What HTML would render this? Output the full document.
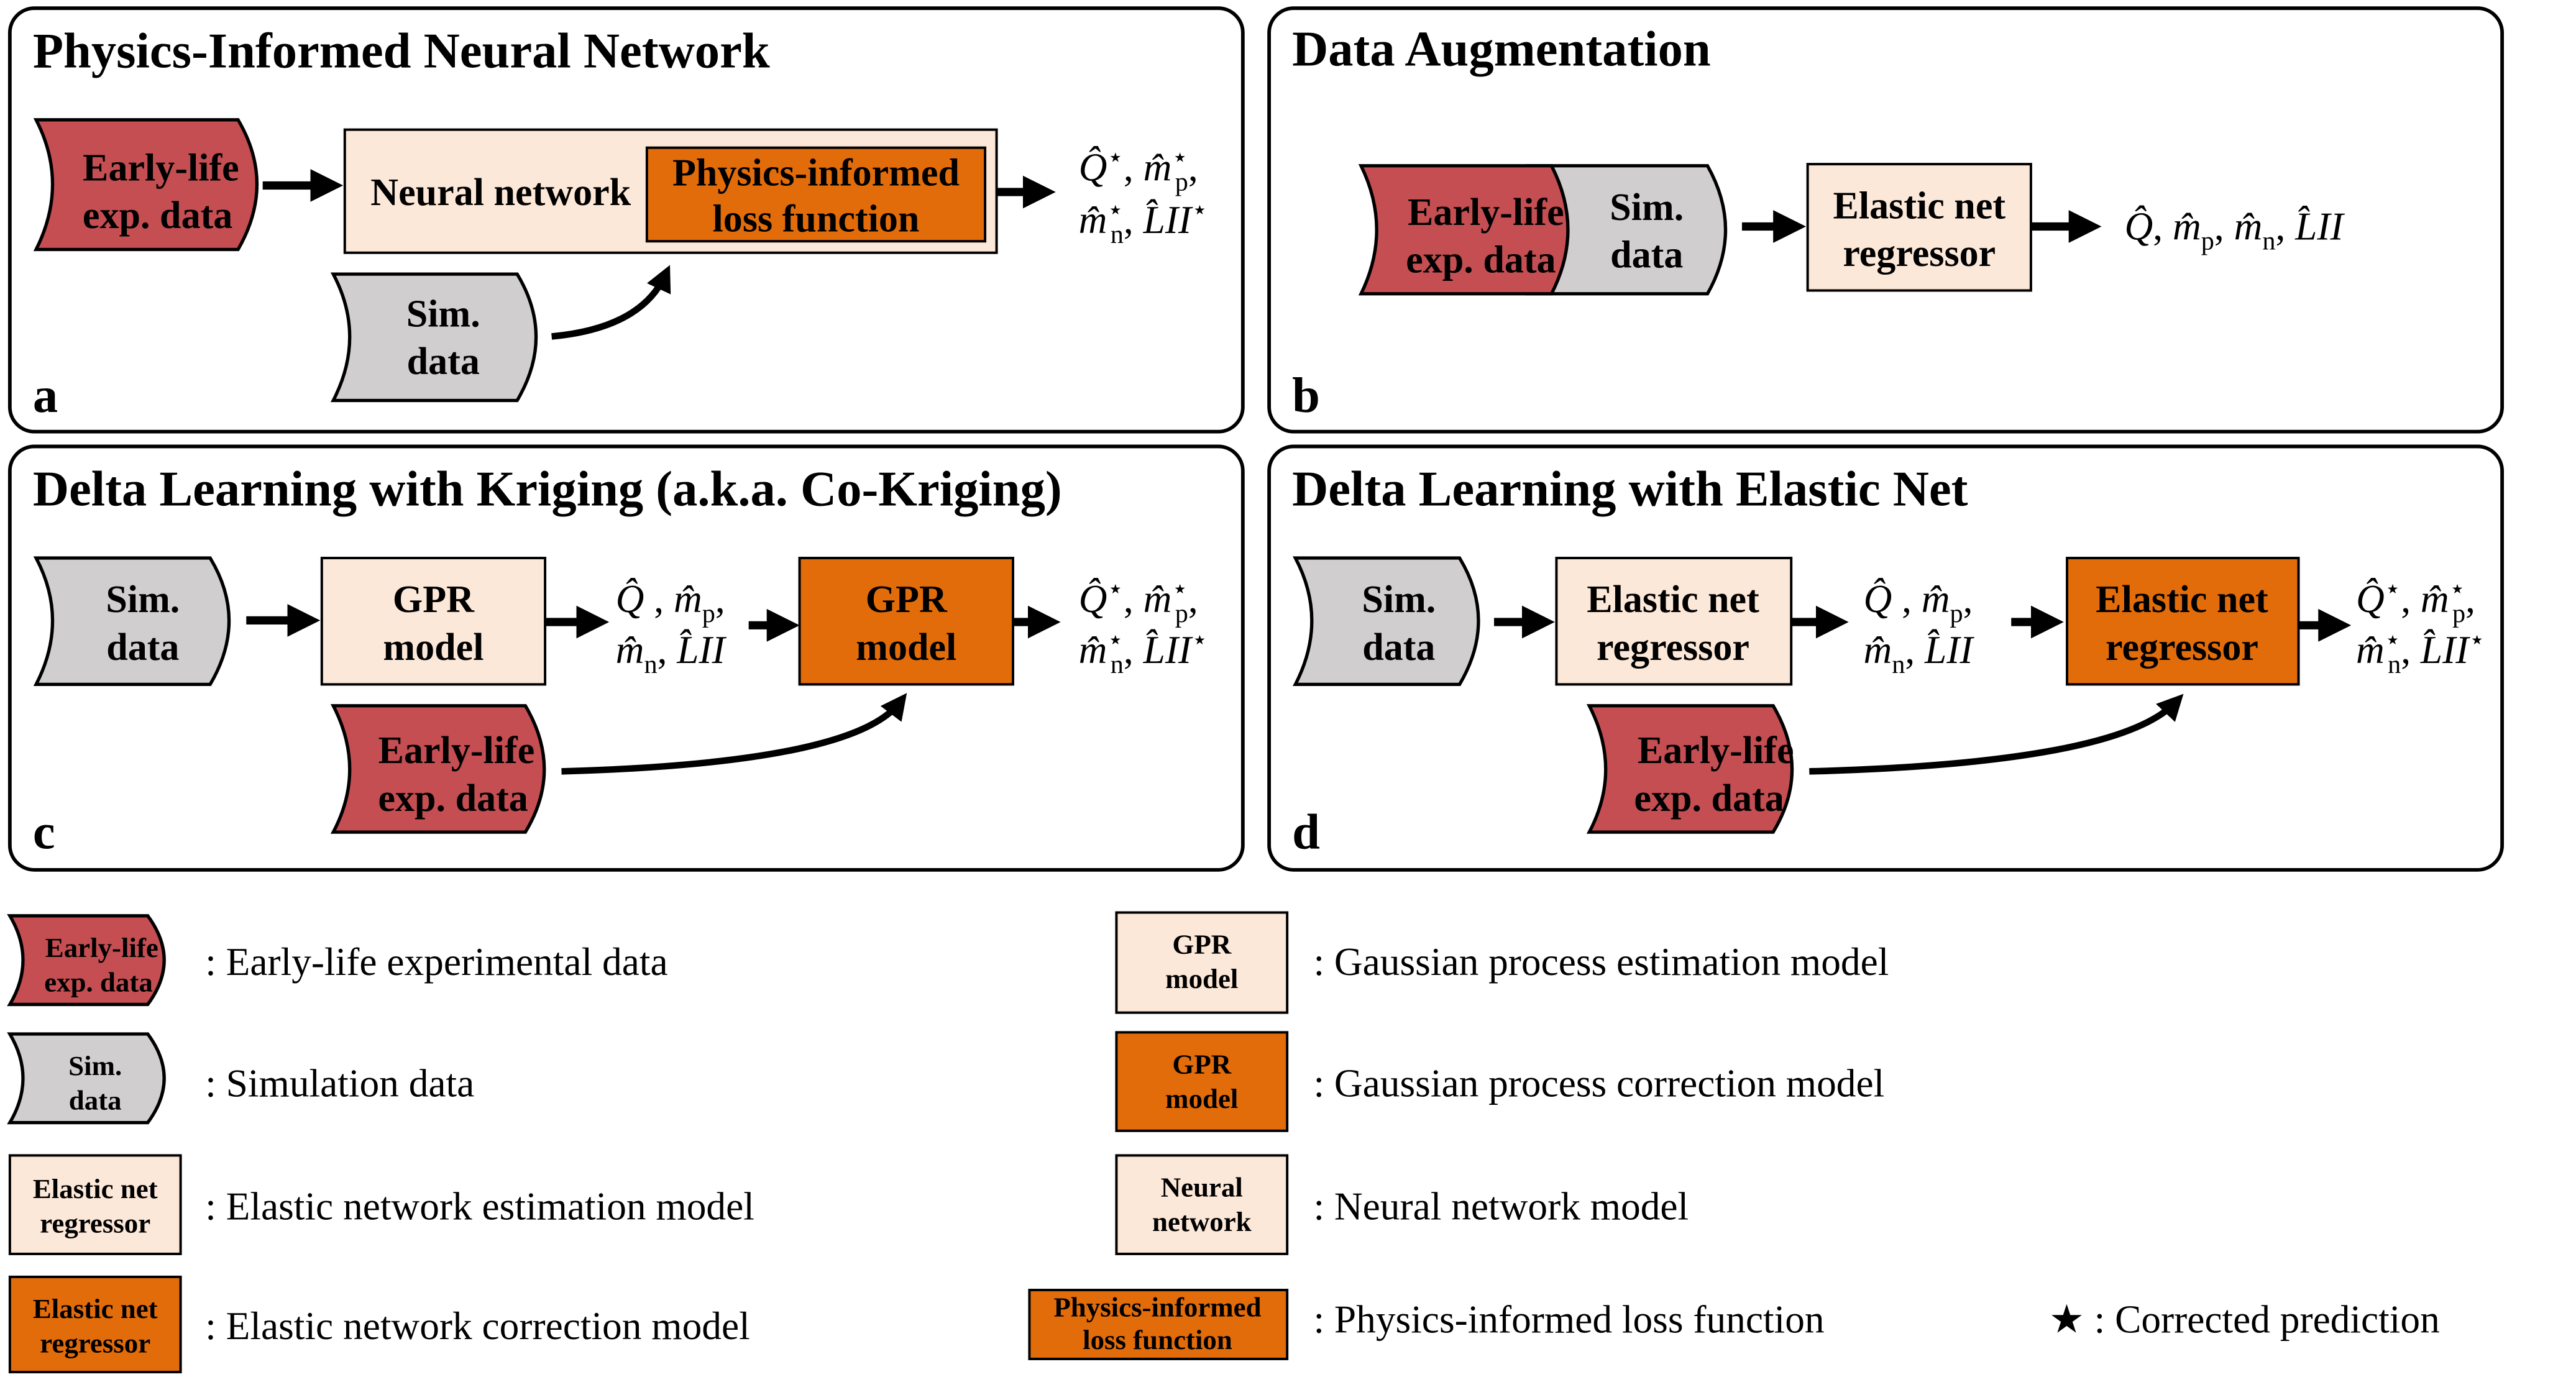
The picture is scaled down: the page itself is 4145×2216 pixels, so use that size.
<!DOCTYPE html>
<html><head><meta charset="utf-8"><style>
html,body{margin:0;padding:0;background:#fff}
svg{display:block}
text{font-family:"Liberation Serif",serif}
.t{font-weight:bold;font-size:30.5px}
.b{font-weight:bold;font-size:23.5px;text-anchor:middle}
.s{font-weight:bold;font-size:17px;text-anchor:middle}
.l{font-size:24px}
.m{font-size:24px;font-style:italic}
.sub{font-size:16px;font-style:normal}
</style></head><body>
<svg width="4145" height="2216" viewBox="0 0 1569 839" preserveAspectRatio="none" xmlns="http://www.w3.org/2000/svg">
<defs>
<marker id="ah" markerWidth="4" markerHeight="4" refX="2.2" refY="2" orient="auto" markerUnits="strokeWidth">
<path d="M0,0 L4,2 L0,4 Z" fill="#000"/></marker>
</defs>
<g fill="none" stroke="#000" stroke-width="2.2">
<rect x="6" y="5" width="751" height="258" rx="15"/>
<rect x="773" y="5" width="751" height="258" rx="15"/>
<rect x="6" y="272" width="751" height="258" rx="15"/>
<rect x="773" y="272" width="751" height="258" rx="15"/>
</g>
<text class="t" x="20" y="41">Physics-Informed Neural Network</text>
<text class="t" x="787" y="40">Data Augmentation</text>
<text class="t" x="20" y="308">Delta Learning with Kriging (a.k.a. Co-Kriging)</text>
<text class="t" x="787" y="308">Delta Learning with Elastic Net</text>
<text class="t" x="20" y="251">a</text>
<text class="t" x="787" y="251">b</text>
<text class="t" x="20" y="517">c</text>
<text class="t" x="787" y="517">d</text>

<!-- Panel a -->
<path d="M22,73 L145,73 Q168,112 145,152 L22,152 Q42,112 22,73 Z" fill="#c44e52" stroke="#000" stroke-width="2"/>
<text class="b" x="98" y="110">Early-life</text><text class="b" x="96" y="139">exp. data</text>
<line x1="160" y1="113" x2="200" y2="113" stroke="#000" stroke-width="5" marker-end="url(#ah)"/>
<rect x="210" y="79" width="397" height="75" fill="#fce8d8" stroke="#000" stroke-width="1.5"/>
<rect x="394" y="90" width="206" height="57" fill="#e36c0a" stroke="#000" stroke-width="1.5"/>
<text class="b" x="305" y="125">Neural network</text>
<text class="b" x="497" y="113">Physics-informed</text><text class="b" x="497" y="141">loss function</text>
<line x1="607" y1="117" x2="634" y2="117" stroke="#000" stroke-width="5" marker-end="url(#ah)"/>
<text class="m" x="657" y="110">Q̂<tspan class="sub" dy="-9">⋆</tspan><tspan dy="9" font-style="normal">, </tspan>m̂<tspan class="sub" dy="-9">⋆</tspan><tspan class="sub" dx="-8" dy="15">p</tspan><tspan dy="-6" font-style="normal">,</tspan></text>
<text class="m" x="657" y="142">m̂<tspan class="sub" dy="-9">⋆</tspan><tspan class="sub" dx="-8" dy="15">n</tspan><tspan dy="-6" font-style="normal">, </tspan>L̂II<tspan class="sub" dy="-9">⋆</tspan></text>
<path d="M203,167 L315,167 Q338,205 315,244 L203,244 Q223,205 203,167 Z" fill="#d0cece" stroke="#000" stroke-width="2"/>
<text class="b" x="270" y="199">Sim.</text><text class="b" x="270" y="228">data</text>
<path d="M336,205 Q390,200 405,168" fill="none" stroke="#000" stroke-width="4" marker-end="url(#ah)"/>

<!-- Panel b -->
<path d="M930,101 L1040,101 Q1062,140 1040,179 L930,179 Z" fill="#d0cece" stroke="#000" stroke-width="2"/>
<path d="M829,101 L945,101 Q965,140 945,179 L829,179 Q848,140 829,101 Z" fill="#c44e52" stroke="#000" stroke-width="2"/>
<text class="b" x="905" y="137">Early-life</text><text class="b" x="902" y="166">exp. data</text>
<text class="b" x="1003" y="134">Sim.</text><text class="b" x="1003" y="163">data</text>
<line x1="1061" y1="138" x2="1091" y2="138" stroke="#000" stroke-width="5" marker-end="url(#ah)"/>
<rect x="1101" y="100" width="136" height="77" fill="#fce8d8" stroke="#000" stroke-width="1.5"/>
<text class="b" x="1169" y="133">Elastic net</text><text class="b" x="1169" y="162">regressor</text>
<line x1="1237" y1="138" x2="1271" y2="138" stroke="#000" stroke-width="5" marker-end="url(#ah)"/>
<text class="m" x="1294" y="146">Q̂<tspan font-style="normal">, </tspan>m̂<tspan class="sub" dy="6">p</tspan><tspan dy="-6" font-style="normal">, </tspan>m̂<tspan class="sub" dy="6">n</tspan><tspan dy="-6" font-style="normal">, </tspan>L̂II</text>

<!-- Panel c -->
<path d="M22,340 L128,340 Q151,378 128,417 L22,417 Q42,378 22,340 Z" fill="#d0cece" stroke="#000" stroke-width="2"/>
<text class="b" x="87" y="373">Sim.</text><text class="b" x="87" y="402">data</text>
<line x1="150" y1="378" x2="186" y2="378" stroke="#000" stroke-width="5" marker-end="url(#ah)"/>
<rect x="196" y="340" width="136" height="77" fill="#fce8d8" stroke="#000" stroke-width="1.5"/>
<text class="b" x="264" y="373">GPR</text><text class="b" x="264" y="402">model</text>
<line x1="332" y1="379" x2="362" y2="379" stroke="#000" stroke-width="5" marker-end="url(#ah)"/>
<text class="m" x="375" y="373">Q̂<tspan font-style="normal"> , </tspan>m̂<tspan class="sub" dy="6">p</tspan><tspan dy="-6" font-style="normal">,</tspan></text>
<text class="m" x="375" y="404">m̂<tspan class="sub" dy="6">n</tspan><tspan dy="-6" font-style="normal">, </tspan>L̂II</text>
<line x1="456" y1="381" x2="478" y2="381" stroke="#000" stroke-width="5" marker-end="url(#ah)"/>
<rect x="487" y="340" width="130" height="77" fill="#e36c0a" stroke="#000" stroke-width="1.5"/>
<text class="b" x="552" y="373">GPR</text><text class="b" x="552" y="402">model</text>
<line x1="617" y1="379" x2="637" y2="379" stroke="#000" stroke-width="5" marker-end="url(#ah)"/>
<text class="m" x="657" y="373">Q̂<tspan class="sub" dy="-9">⋆</tspan><tspan dy="9" font-style="normal">, </tspan>m̂<tspan class="sub" dy="-9">⋆</tspan><tspan class="sub" dx="-8" dy="15">p</tspan><tspan dy="-6" font-style="normal">,</tspan></text>
<text class="m" x="657" y="404">m̂<tspan class="sub" dy="-9">⋆</tspan><tspan class="sub" dx="-8" dy="15">n</tspan><tspan dy="-6" font-style="normal">, </tspan>L̂II<tspan class="sub" dy="-9">⋆</tspan></text>
<path d="M203,430 L320,430 Q343,469 320,507 L203,507 Q223,469 203,430 Z" fill="#c44e52" stroke="#000" stroke-width="2"/>
<text class="b" x="278" y="465">Early-life</text><text class="b" x="276" y="494">exp. data</text>
<path d="M342,470 Q520,465 548,428" fill="none" stroke="#000" stroke-width="4" marker-end="url(#ah)"/>

<!-- Panel d -->
<path d="M789,340 L889,340 Q912,378 889,417 L789,417 Q809,378 789,340 Z" fill="#d0cece" stroke="#000" stroke-width="2"/>
<text class="b" x="852" y="373">Sim.</text><text class="b" x="852" y="402">data</text>
<line x1="910" y1="379" x2="938" y2="379" stroke="#000" stroke-width="5" marker-end="url(#ah)"/>
<rect x="948" y="340" width="143" height="77" fill="#fce8d8" stroke="#000" stroke-width="1.5"/>
<text class="b" x="1019" y="373">Elastic net</text><text class="b" x="1019" y="402">regressor</text>
<line x1="1091" y1="379" x2="1117" y2="379" stroke="#000" stroke-width="5" marker-end="url(#ah)"/>
<text class="m" x="1135" y="373">Q̂<tspan font-style="normal"> , </tspan>m̂<tspan class="sub" dy="6">p</tspan><tspan dy="-6" font-style="normal">,</tspan></text>
<text class="m" x="1135" y="404">m̂<tspan class="sub" dy="6">n</tspan><tspan dy="-6" font-style="normal">, </tspan>L̂II</text>
<line x1="1225" y1="379" x2="1248" y2="379" stroke="#000" stroke-width="5" marker-end="url(#ah)"/>
<rect x="1259" y="340" width="141" height="77" fill="#e36c0a" stroke="#000" stroke-width="1.5"/>
<text class="b" x="1329" y="373">Elastic net</text><text class="b" x="1329" y="402">regressor</text>
<line x1="1400" y1="381" x2="1423" y2="381" stroke="#000" stroke-width="5" marker-end="url(#ah)"/>
<text class="m" x="1435" y="373">Q̂<tspan class="sub" dy="-9">⋆</tspan><tspan dy="9" font-style="normal">, </tspan>m̂<tspan class="sub" dy="-9">⋆</tspan><tspan class="sub" dx="-8" dy="15">p</tspan><tspan dy="-6" font-style="normal">,</tspan></text>
<text class="m" x="1435" y="404">m̂<tspan class="sub" dy="-9">⋆</tspan><tspan class="sub" dx="-8" dy="15">n</tspan><tspan dy="-6" font-style="normal">, </tspan>L̂II<tspan class="sub" dy="-9">⋆</tspan></text>
<path d="M968,430 L1080,430 Q1103,469 1080,507 L968,507 Q988,469 968,430 Z" fill="#c44e52" stroke="#000" stroke-width="2"/>
<text class="b" x="1045" y="465">Early-life</text><text class="b" x="1041" y="494">exp. data</text>
<path d="M1102,470 Q1290,465 1325,428" fill="none" stroke="#000" stroke-width="4" marker-end="url(#ah)"/>

<!-- Legend -->
<path d="M6,558 L90,558 Q110,585 90,612 L6,612 Q22,585 6,558 Z" fill="#c44e52" stroke="#000" stroke-width="2"/>
<text class="s" x="62" y="583">Early-life</text><text class="s" x="60" y="604">exp. data</text>
<text class="l" x="125" y="594">: Early-life experimental data</text>
<path d="M6,630 L90,630 Q110,657 90,684 L6,684 Q22,657 6,630 Z" fill="#d0cece" stroke="#000" stroke-width="2"/>
<text class="s" x="58" y="655">Sim.</text><text class="s" x="58" y="676">data</text>
<text class="l" x="125" y="668">: Simulation data</text>
<rect x="6" y="704" width="104" height="60" fill="#fce8d8" stroke="#000" stroke-width="1.5"/>
<text class="s" x="58" y="730">Elastic net</text><text class="s" x="58" y="751">regressor</text>
<text class="l" x="125" y="743">: Elastic network estimation model</text>
<rect x="6" y="778" width="104" height="58" fill="#e36c0a" stroke="#000" stroke-width="1.5"/>
<text class="s" x="58" y="803">Elastic net</text><text class="s" x="58" y="824">regressor</text>
<text class="l" x="125" y="816">: Elastic network correction model</text>

<rect x="680" y="556" width="104" height="61" fill="#fce8d8" stroke="#000" stroke-width="1.5"/>
<text class="s" x="732" y="581">GPR</text><text class="s" x="732" y="602">model</text>
<text class="l" x="800" y="594">: Gaussian process estimation model</text>
<rect x="680" y="629" width="104" height="60" fill="#e36c0a" stroke="#000" stroke-width="1.5"/>
<text class="s" x="732" y="654">GPR</text><text class="s" x="732" y="675">model</text>
<text class="l" x="800" y="668">: Gaussian process correction model</text>
<rect x="680" y="704" width="104" height="60" fill="#fce8d8" stroke="#000" stroke-width="1.5"/>
<text class="s" x="732" y="729">Neural</text><text class="s" x="732" y="750">network</text>
<text class="l" x="800" y="743">: Neural network model</text>
<rect x="627" y="786" width="157" height="42" fill="#e36c0a" stroke="#000" stroke-width="1.5"/>
<text class="s" x="705" y="802">Physics-informed</text><text class="s" x="705" y="822">loss function</text>
<text class="l" x="800" y="812">: Physics-informed loss function</text>
<text class="l" x="1248" y="812">★ : Corrected prediction</text>
</svg>
</body></html>
